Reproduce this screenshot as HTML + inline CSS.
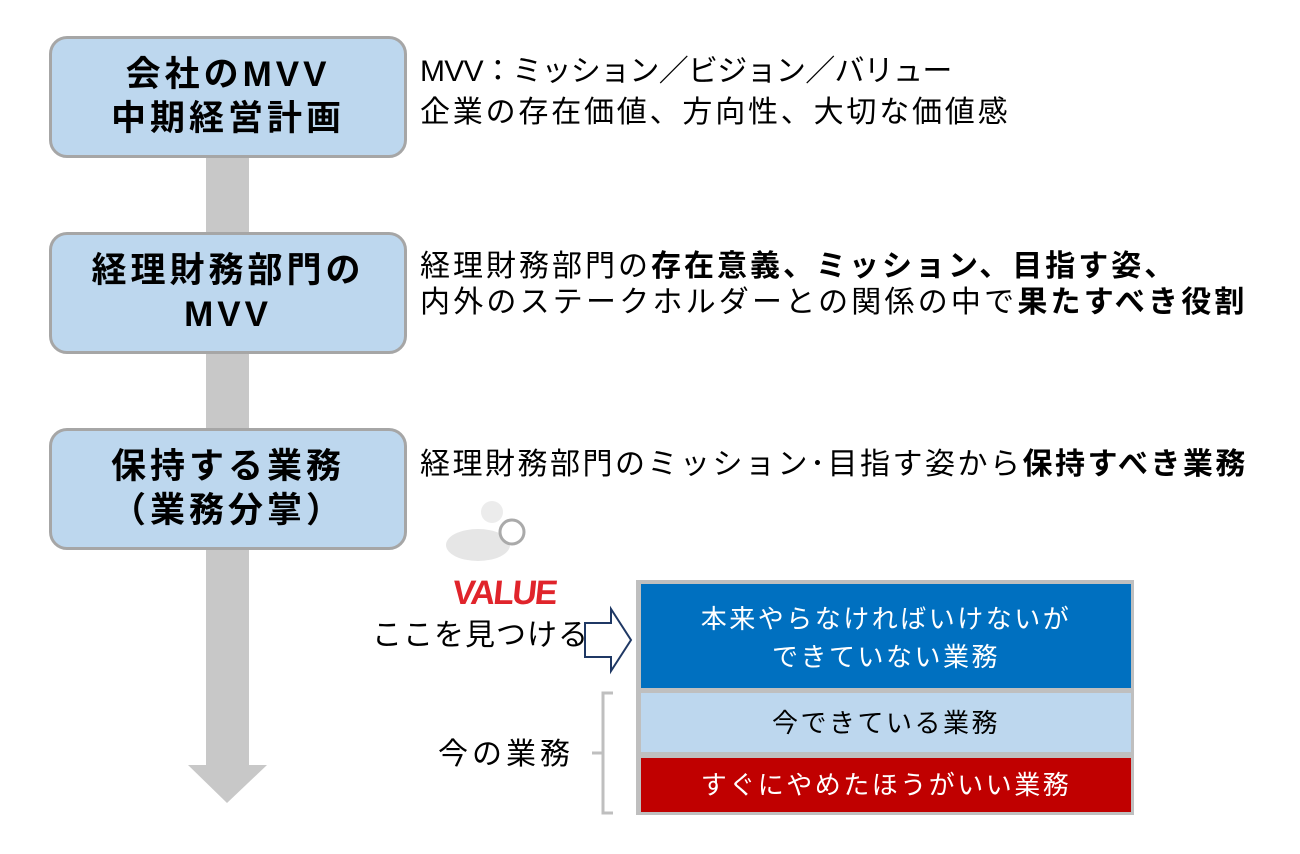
<!DOCTYPE html>
<html><head><meta charset="utf-8"><style>
body{margin:0;width:1300px;height:854px;background:#fff;position:relative;overflow:hidden;font-family:"Liberation Sans","Noto Sans CJK JP",sans-serif;}
.a{position:absolute;white-space:nowrap;}
.box{position:absolute;left:49px;width:352px;height:116px;background:#bdd7ee;border:3px solid #a6a6a6;border-radius:18px;display:flex;align-items:center;justify-content:center;text-align:center;font-weight:bold;font-size:35px;letter-spacing:4px;line-height:44px;color:#000;}
.t{font-size:30px;letter-spacing:2.8px;line-height:38px;color:#000;}
b{font-weight:bold;}
.s{font-size:26px;letter-spacing:2.5px;}
</style></head><body>
<svg class="a" style="left:0;top:0" width="1300" height="854">
<rect x="206" y="150" width="43" height="620" fill="#c8c8c8"/>
<polygon points="188,765 267,765 227,803" fill="#c8c8c8"/>
<polygon points="585,623 611,623 611,609 631,640 611,671 611,657 585,657" fill="#fff" stroke="#1f3864" stroke-width="2"/>
<path d="M613,693 H603 V813 H613 M603,753 H592" fill="none" stroke="#bfbfbf" stroke-width="3"/>
<rect x="636" y="580" width="498" height="235" fill="#bfbfbf"/>
<rect x="641" y="584" width="490" height="104" fill="#0070c0"/>
<rect x="641" y="693" width="490" height="59" fill="#bdd7ee"/>
<rect x="641" y="758" width="490" height="54" fill="#c00000"/>
<ellipse cx="478" cy="545" rx="32" ry="16" fill="#e6e6e6"/>
<circle cx="492" cy="512" r="11" fill="#ececec"/>
<circle cx="512" cy="532" r="12" fill="#fff" stroke="#aaa" stroke-width="3"/>
<text x="455" y="604" font-family="Liberation Sans" font-weight="bold" font-size="34" fill="#e0242b" transform="skewX(-6) translate(60,0)" textLength="105">VALUE</text>
</svg>
<div class="box" style="top:36px">会社のMVV<br>中期経営計画</div>
<div class="box" style="top:232px">経理財務部門の<br>MVV</div>
<div class="box" style="top:428px">保持する業務<br>（業務分掌）</div>
<div class="a t" style="left:420px;top:53px;letter-spacing:-0.7px">MVV：ミッション／ビジョン／バリュー</div>
<div class="a t" style="left:420px;top:94px">企業の存在価値、方向性、大切な価値感</div>
<div class="a t" style="left:420px;top:248px;letter-spacing:3px">経理財務部門の<b>存在意義、ミッション、目指す姿、</b></div>
<div class="a t" style="left:420px;top:284px;letter-spacing:3.2px">内外のステークホルダーとの関係の中で<b>果たすべき役割</b></div>
<div class="a t" style="left:420px;top:446px;letter-spacing:2.5px">経理財務部門のミッション･目指す姿から<b>保持すべき業務</b></div>
<div class="a t" style="left:372px;top:617px;letter-spacing:1px">ここを見つける</div>
<div class="a t" style="left:438px;top:736px;letter-spacing:4px">今の業務</div>
<div class="a t s" style="left:641px;top:600px;width:490px;text-align:center;color:#fff">本来やらなければいけないが<br>できていない業務</div>
<div class="a t s" style="left:641px;top:704px;width:490px;text-align:center">今できている業務</div>
<div class="a t s" style="left:641px;top:766px;width:490px;text-align:center;color:#fff">すぐにやめたほうがいい業務</div>
</body></html>
